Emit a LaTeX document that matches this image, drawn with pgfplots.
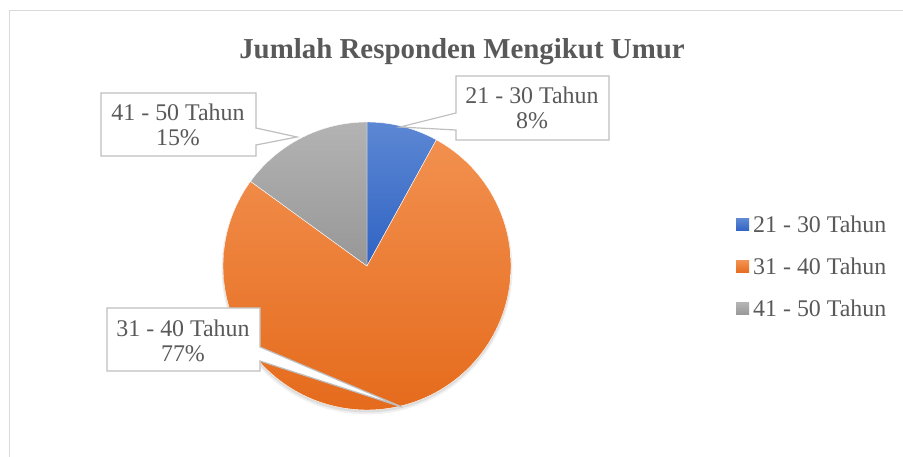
\documentclass[border=0pt]{standalone}
\usepackage{pgfplots}
\pgfplotsset{compat=1.18}
\usepackage{fontspec}
\setmainfont{Liberation Serif}
\definecolor{txt}{HTML}{595959}
\definecolor{bluetop}{HTML}{5C87D3}
\definecolor{bluebot}{HTML}{2F63C3}
\definecolor{orgtop}{HTML}{F2904F}
\definecolor{orgbot}{HTML}{E56B1C}
\definecolor{graytop}{HTML}{B3B3B3}
\definecolor{graybot}{HTML}{979797}
\definecolor{boxline}{HTML}{BFBFBF}
\definecolor{frame}{HTML}{D9D9D9}
% data (percent)
\def\va{8}
\def\vb{77}
\def\vc{15}
\pgfmathsetmacro{\aA}{90-3.6*\va}
\pgfmathsetmacro{\aB}{\aA-3.6*\vb}
\pgfmathsetmacro{\aC}{\aB-3.6*\vc}
\begin{document}
\begin{tikzpicture}
\useasboundingbox (0,0) rectangle (903bp,457bp);
\begin{axis}[
  at={(0,0)}, anchor=origin,
  x=1bp, y=1bp,
  xmin=0, xmax=903, ymin=0, ymax=457,
  hide axis, clip=false,
]
% frame (top and left visible)
\draw[frame, line width=1bp] (9,0) -- (9,446) -- (903,446);
% title
\node[font=\bfseries\fontsize{29}{29}\selectfont, text=txt, anchor=base] at (462,398) {Jumlah Responden Mengikut Umur};
% soft shadow
\addplot[draw=none, fill=black, fill opacity=0.06, domain=0:360, samples=120, variable=\t]
  ({367+145.5*cos(\t)},{188+145.5*sin(\t)}) -- cycle;
\addplot[draw=none, fill=black, fill opacity=0.08, domain=0:360, samples=120, variable=\t]
  ({367+144.5*cos(\t)},{189+144.5*sin(\t)}) -- cycle;
% pie slices
\addplot[draw=white, line width=0.4bp, top color=bluetop, bottom color=bluebot, domain=\aA:90, samples=40, variable=\t]
  ({367+144*cos(\t)},{191+144*sin(\t)}) -- (367,191) -- cycle;
\addplot[draw=white, line width=0.4bp, top color=orgtop, bottom color=orgbot, domain=\aB:\aA, samples=200, variable=\t]
  ({367+144*cos(\t)},{191+144*sin(\t)}) -- (367,191) -- cycle;
\addplot[draw=white, line width=0.4bp, top color=graytop, bottom color=graybot, domain=\aC:\aB, samples=40, variable=\t]
  ({367+144*cos(\t)},{191+144*sin(\t)}) -- (367,191) -- cycle;
% callouts
\draw[boxline, line width=1.2bp, fill=white, line join=miter]
  (456,381) -- (609,381) -- (609,317) -- (456,317) -- (456,327) -- (400,330) -- (456,344) -- cycle;
\node[font=\fontsize{24}{25.5}\selectfont, text=txt, align=center] at (532,349) {21 - 30 Tahun\\8\%};
\draw[boxline, line width=1.2bp, fill=white, line join=miter]
  (101,364) -- (256,364) -- (256,329) -- (297,320) -- (256,312) -- (256,301) -- (101,301) -- cycle;
\node[font=\fontsize{24}{25.5}\selectfont, text=txt, align=center] at (178,332) {41 - 50 Tahun\\15\%};
\draw[boxline, line width=1.2bp, fill=white, line join=miter]
  (107,149) -- (260,149) -- (260,110) -- (402,50) -- (260,96) -- (260,86) -- (107,86) -- cycle;
\node[font=\fontsize{24}{25.5}\selectfont, text=txt, align=center] at (183,116) {31 - 40 Tahun\\77\%};
% legend
\fill[top color=bluetop, bottom color=bluebot] (736,226) rectangle (749,238);
\node[font=\fontsize{24}{24}\selectfont, text=txt, anchor=base west, inner sep=0pt] at (753,225) {21 - 30 Tahun};
\fill[top color=orgtop, bottom color=orgbot] (736,184) rectangle (749,196);
\node[font=\fontsize{24}{24}\selectfont, text=txt, anchor=base west, inner sep=0pt] at (753,183) {31 - 40 Tahun};
\fill[top color=graytop, bottom color=graybot] (736,142) rectangle (749,154);
\node[font=\fontsize{24}{24}\selectfont, text=txt, anchor=base west, inner sep=0pt] at (753,141) {41 - 50 Tahun};
\end{axis}
\end{tikzpicture}
\end{document}
